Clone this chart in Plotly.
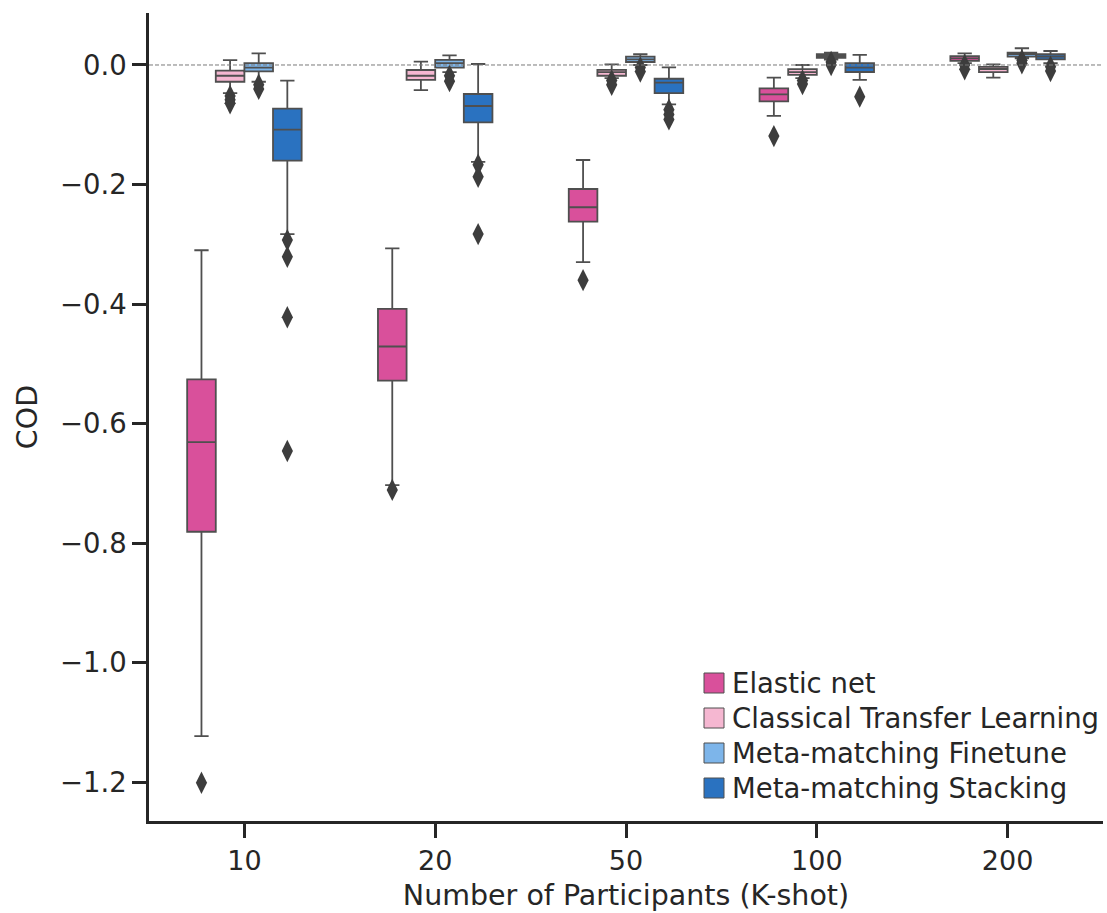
import plotly.graph_objects as go

# K-shot sample sizes on the x axis
categories = ["10", "20", "50", "100", "200"]

methods = [
    "Elastic net",
    "Classical Transfer Learning",
    "Meta-matching Finetune",
    "Meta-matching Stacking",
]
colors = ["#d9509b", "#f5b7d1", "#7db5ea", "#2a72c0"]

# Box statistics per method, one value per K-shot category
en_hi = [-0.310, -0.307, -0.159, -0.021, 0.0195]
en_q3 = [-0.526, -0.408, -0.2075, -0.039, 0.015]
en_med = [-0.631, -0.471, -0.238, -0.049, 0.011]
en_q1 = [-0.781, -0.528, -0.262, -0.061, 0.007]
en_lo = [-1.123, -0.703, -0.330, -0.085, 0.003]
en_out = [[-1.201], [-0.711], [-0.360], [-0.119], [0.0, -0.007]]

ctl_hi = [0.008, 0.0056, 0.001, 0.0, 0.001]
ctl_q3 = [-0.0095, -0.0084, -0.008, -0.007, -0.003]
ctl_med = [-0.018, -0.018, -0.012, -0.012, -0.0067]
ctl_q1 = [-0.028, -0.025, -0.018, -0.0167, -0.012]
ctl_lo = [-0.047, -0.042, -0.022, -0.022, -0.021]
ctl_out = [[-0.052, -0.058, -0.064], [], [-0.026, -0.033], [-0.026, -0.032], []]

mmf_hi = [0.0195, 0.016, 0.018, 0.0206, 0.028]
mmf_q3 = [0.003, 0.0084, 0.014, 0.018, 0.0206]
mmf_med = [-0.0045, 0.003, 0.0095, 0.015, 0.0184]
mmf_q1 = [-0.0106, -0.0045, 0.005, 0.012, 0.014]
mmf_lo = [-0.028, -0.012, 0.0, 0.009, 0.011]
mmf_out = [[-0.033, -0.040], [-0.018, -0.027], [-0.004, -0.011], [0.005, 0.0], [0.008, 0.003]]

mms_hi = [-0.026, 0.0017, -0.004, 0.017, 0.0234]
mms_q3 = [-0.073, -0.0485, -0.023, 0.003, 0.018]
mms_med = [-0.108, -0.0686, -0.0296, -0.0045, 0.014]
mms_q1 = [-0.160, -0.096, -0.047, -0.0117, 0.0095]
mms_lo = [-0.283, -0.162, -0.066, -0.025, 0.003]
mms_out = [[-0.293, -0.321, -0.422, -0.646], [-0.167, -0.187, -0.283],
           [-0.075, -0.083, -0.091], [-0.053], [-0.003, -0.010]]

stats = [
    (en_lo, en_q1, en_med, en_q3, en_hi, en_out),
    (ctl_lo, ctl_q1, ctl_med, ctl_q3, ctl_hi, ctl_out),
    (mmf_lo, mmf_q1, mmf_med, mmf_q3, mmf_hi, mmf_out),
    (mms_lo, mms_q1, mms_med, mms_q3, mms_hi, mms_out),
]

y_ticks = [0.0, -0.2, -0.4, -0.6, -0.8, -1.0, -1.2]
y_tick_text = ["0.0", "\u22120.2", "\u22120.4", "\u22120.6", "\u22120.8", "\u22121.0", "\u22121.2"]

FONT = "DejaVu Sans"
EDGE = "#4f4f4f"
INK = "#262626"
box_w = 0.15

W, H = 1107, 913
M_L, M_R, M_T, M_B = 149, 4, 13, 92
PW, PH = W - M_L - M_R, H - M_T - M_B


def px_x(px):
    return (px - M_L) / PW


def px_y(py):
    return (H - M_B - py) / PH


fig = go.Figure()
n = len(methods)
for j, (name, color, (lo, q1, med, q3, hi, out)) in enumerate(zip(methods, colors, stats)):
    off = (j - (n - 1) / 2) * box_w
    xs = [i + off for i in range(len(categories))]
    fig.add_trace(go.Box(
        x=xs, q1=q1, median=med, q3=q3, lowerfence=lo, upperfence=hi,
        width=box_w, fillcolor=color, line=dict(color=EDGE, width=1.8),
        whiskerwidth=0.5, boxpoints=False, showlegend=False, hoverinfo="skip",
    ))
    ox, oy = [], []
    for i, vals in enumerate(out):
        ox += [xs[i]] * len(vals)
        oy += vals
    fig.add_trace(go.Scatter(
        x=ox, y=oy, mode="markers", showlegend=False, hoverinfo="skip",
        marker=dict(symbol="diamond-tall", size=16, color="#3d3d3d"),
    ))

fig.add_hline(y=0, line=dict(color="#7a7a7a", width=1, dash="4px,2px"), layer="above")

# Legend: colour swatches with labels, lower right of the axes
leg_top, leg_step, sw = 683, 35, 20
for j, (name, color) in enumerate(zip(methods, colors)):
    cy = leg_top + j * leg_step
    fig.add_shape(
        type="rect", xref="paper", yref="paper",
        x0=px_x(704), x1=px_x(704 + sw), y0=px_y(cy + sw / 2), y1=px_y(cy - sw / 2),
        fillcolor=color, line=dict(color=EDGE, width=1),
    )
    fig.add_annotation(
        text=name, xref="paper", yref="paper", x=px_x(730), y=px_y(cy),
        xanchor="left", yanchor="middle", showarrow=False,
        font=dict(size=27.5, color=INK, family=FONT),
    )

fig.update_layout(
    width=W, height=H,
    margin=dict(l=M_L, r=M_R, t=M_T, b=M_B, autoexpand=False),
    paper_bgcolor="white", plot_bgcolor="white",
    font=dict(family=FONT, color=INK, size=27),
    showlegend=False,
)
fig.update_xaxes(
    range=[-0.5, 4.5], tickmode="array", tickvals=list(range(len(categories))),
    ticktext=categories, ticks="outside", ticklen=14, tickwidth=2.5, tickcolor=INK,
    showline=True, linecolor=INK, linewidth=2.5, showgrid=False, zeroline=False,
    tickfont=dict(size=27),
    title=dict(text="Number of Participants (K-shot)", font=dict(size=28.5), standoff=10),
)
fig.update_yaxes(
    range=[-1.265, 0.087], tickmode="array", tickvals=y_ticks, ticktext=y_tick_text,
    ticks="outside", ticklen=14, tickwidth=2.5, tickcolor=INK,
    showline=True, linecolor=INK, linewidth=2.5, showgrid=False, zeroline=False,
    tickfont=dict(size=27.5),
    title=dict(text="COD", font=dict(size=28.5), standoff=14),
)

fig.write_html("out.html")
